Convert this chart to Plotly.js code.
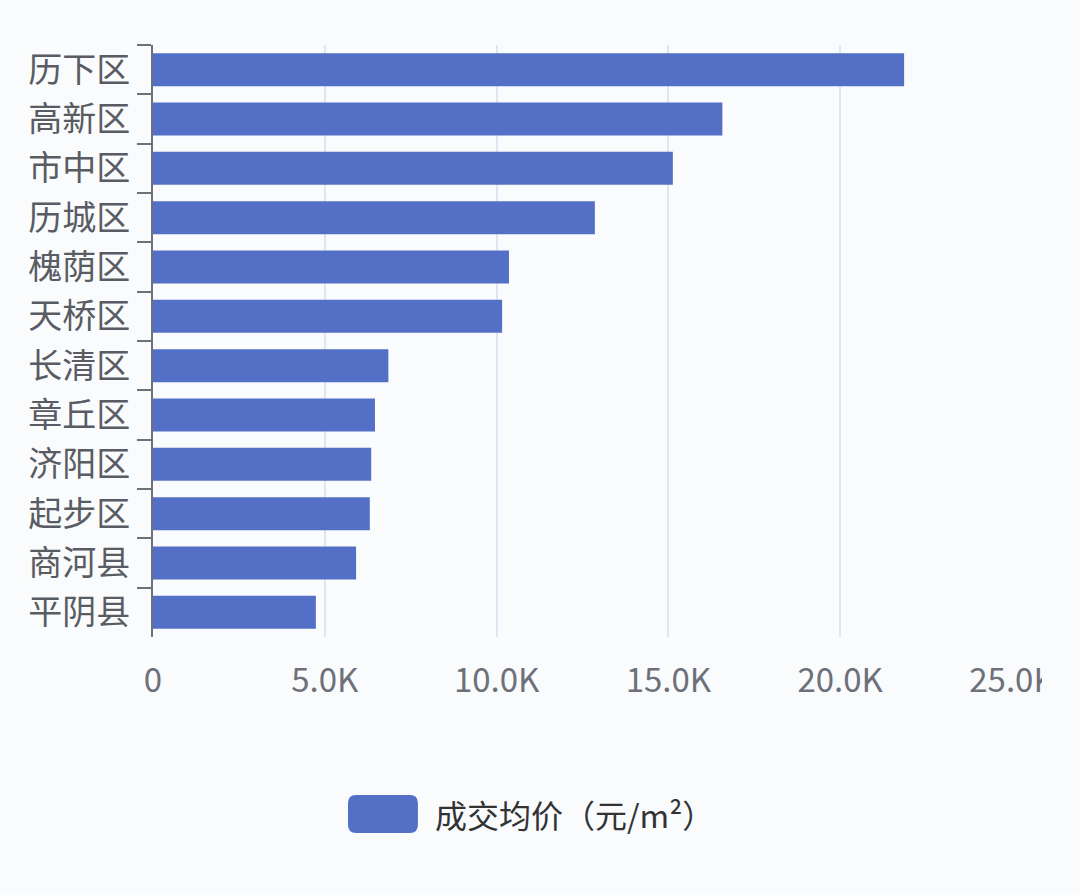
<!DOCTYPE html>
<html>
<head>
<meta charset="utf-8">
<script src="https://cdn.plot.ly/plotly-3.0.1.min.js"></script>
<style>
	html, body { margin: 0; padding: 0; background: #f9fbfd; }
	#wrap { width: 1042px; height: 895px; overflow: hidden; }
	#chart { width: 1080px; height: 895px; }
</style>
</head>
<body>
<div id="wrap"><div id="chart"></div></div>
<script>
// 成交均价 by district
const districts = ["历下区", "高新区", "市中区", "历城区", "槐荫区", "天桥区",
	"长清区", "章丘区", "济阳区", "起步区", "商河县", "平阴县"];
const avg_price = [21860, 16570, 15130, 12860, 10360, 10160,
	6850, 6460, 6350, 6310, 5910, 4740];
const x_ticks = [0, 5000, 10000, 15000, 20000, 25000];
const x_tick_labels = ["0", "5.0K", "10.0K", "15.0K", "20.0K", "25.0K"];
const series_name = "成交均价（元/m²）";

const font_family = '"Noto Sans CJK SC", "Noto Sans", sans-serif';
const bar_color = "#5470c6";

// rounded legend swatch in paper coords
function roundRect(x0, x1, y0, y1, rx, ry) {
	return "M" + (x0 + rx) + "," + y0 +
		" L" + (x1 - rx) + "," + y0 + " Q" + x1 + "," + y0 + " " + x1 + "," + (y0 - ry) +
		" L" + x1 + "," + (y1 + ry) + " Q" + x1 + "," + y1 + " " + (x1 - rx) + "," + y1 +
		" L" + (x0 + rx) + "," + y1 + " Q" + x0 + "," + y1 + " " + x0 + "," + (y1 + ry) +
		" L" + x0 + "," + (y0 - ry) + " Q" + x0 + "," + y0 + " " + (x0 + rx) + "," + y0 + " Z";
}

let data = [
		{
			x: avg_price,
			y: districts,
			type: "bar",
			orientation: "h",
			name: series_name,
			marker: { color: bar_color },
			hoverinfo: "x+y",
		},
	],
	layout = {
		width: 1080,
		height: 895,
		paper_bgcolor: "#f9fbfd",
		plot_bgcolor: "#f9fbfd",
		showlegend: false,
		bargap: 0.33,
		margin: { l: 153, r: 68, t: 45, b: 258, pad: 0 },
		font: { family: font_family, color: "#6e7079", size: 31 },
		xaxis: {
			range: [0, 25000],
			tickvals: x_ticks,
			ticktext: x_tick_labels,
			showgrid: true,
			gridcolor: "#e0e6f1",
			gridwidth: 2,
			zeroline: false,
			showline: false,
			ticks: "outside",
			ticklen: 14,
			tickcolor: "rgba(0,0,0,0)",
			tickfont: { family: font_family, size: 33, color: "#6e7079" },
			fixedrange: true,
		},
		yaxis: {
			type: "category",
			autorange: "reversed",
			showgrid: false,
			zeroline: false,
			showline: true,
			linecolor: "#6e7079",
			linewidth: 2,
			ticks: "outside",
			tickson: "boundaries",
			ticklen: 14,
			tickwidth: 2,
			tickcolor: "#6e7079",
			ticklabelstandoff: 14,
			tickfont: { family: font_family, size: 34, color: "#5a5c63" },
			fixedrange: true,
		},
		shapes: [
			{
				type: "path",
				xref: "paper",
				yref: "paper",
				path: roundRect(0.2270, 0.3084, -0.2669, -0.3311, 0.0093, 0.0135),
				fillcolor: bar_color,
				line: { width: 0 },
			},
		],
		annotations: [
			{
				xref: "paper",
				yref: "paper",
				x: 0.3256,
				y: -0.2990,
				xanchor: "left",
				yanchor: "middle",
				showarrow: false,
				text: series_name,
				font: { family: font_family, size: 32, color: "#333333" },
			},
		],
	};

Plotly.newPlot("chart", data, layout, { displayModeBar: false, staticPlot: true });
</script>
</body>
</html>
